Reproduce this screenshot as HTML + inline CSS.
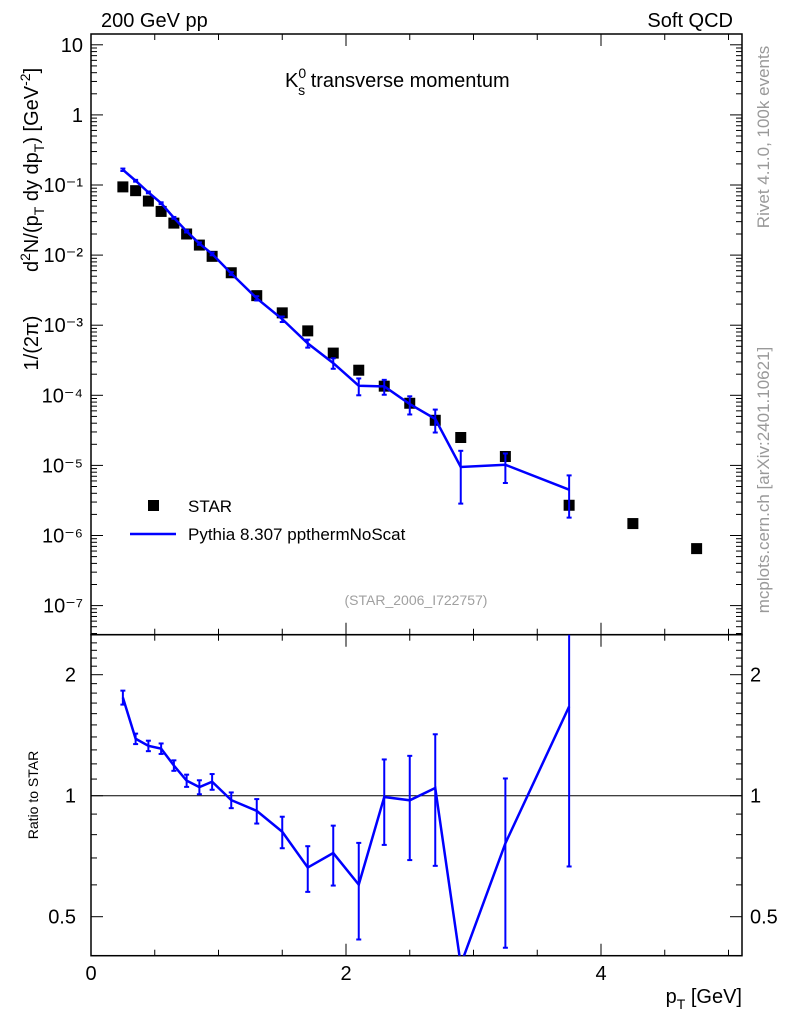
<!DOCTYPE html>
<html><head><meta charset="utf-8"><style>
html,body{margin:0;padding:0;background:#fff;width:786px;height:1024px;overflow:hidden}
svg{display:block;font-family:"Liberation Sans",sans-serif}
</style></head><body>
<svg id="c" width="786" height="1024" viewBox="0 0 786 1024"></svg>
<script>
const xVals=[0.25,0.35,0.45,0.55,0.65,0.75,0.85,0.95,1.1,1.3,1.5,1.7,1.9,2.1,2.3,2.5,2.7,2.9,3.25,3.75,4.25,4.75];
const starVals=[0.094,0.083,0.059,0.042,0.0286,0.020,0.0139,0.0096,0.0056,0.00264,0.00150,0.00083,0.00040,0.000228,0.000135,7.7e-5,4.4e-5,2.5e-5,1.34e-5,2.7e-6,1.48e-6,6.5e-7];
const pyVals=[0.165,0.115,0.0785,0.055,0.034,0.0218,0.0146,0.0104,0.00546,0.00242,0.00122,0.00055,0.000288,0.000137,0.000134,7.5e-5,4.6e-5,9.5e-6,1.02e-5,4.5e-6];
const pyRelErr=[0.04,0.03,0.03,0.03,0.03,0.035,0.04,0.045,0.045,0.07,0.09,0.13,0.17,0.27,0.24,0.29,0.36,0.7,0.45,0.6];
const mainTicks=["10","1","10⁻¹","10⁻²","10⁻³","10⁻⁴","10⁻⁵","10⁻⁶","10⁻⁷"];
const ratioTicks=[2,1,0.5];
const xTicks=[0,2,4];

const S=document.getElementById('c'),NS='http://www.w3.org/2000/svg';
function el(t,a,p){const e=document.createElementNS(NS,t);for(const k in a)e.setAttribute(k,a[k]);(p||S).appendChild(e);return e;}
const L=91,R=742,T=34,MB=634.7,RB=955.7;
const X=v=>L+127.5*v;
const Y=v=>44.8+70.1*(1-Math.log10(v));
const YR=r=>795.7-121*Math.log2(r);

const defs=el('defs',{});
const c1=el('clipPath',{id:'cm'},defs);el('rect',{x:L,y:T,width:R-L,height:MB-T},c1);
const c2=el('clipPath',{id:'cr'},defs);el('rect',{x:L,y:MB,width:R-L,height:RB-MB},c2);

let f=el('rect',{x:L,y:T,width:R-L,height:MB-T,fill:'none',stroke:'#000','stroke-width':1.5});

f=el('rect',{x:L,y:MB,width:R-L,height:RB-MB,fill:'none',stroke:'#000','stroke-width':1.5});


for(let d=1;d>=-8;d--){for(let m=1;m<10;m++){const v=m*Math.pow(10,d);const y=Y(v);if(y<T||y>MB)continue;const len=m==1?12:6;
el('line',{x1:L,y1:y,x2:L+len,y2:y,stroke:'#000'});el('line',{x1:R,y1:y,x2:R-len,y2:y,stroke:'#000'});}}
mainTicks.forEach((t,i)=>{const y=Y(Math.pow(10,1-i));const tx=el('text',{x:L-8,y:y+7,'text-anchor':'end','font-size':20});tx.textContent=t;
});
for(let r=0.4;r<=2.5;r+=0.1){const rr=Math.round(r*10)/10;const y=YR(rr);if(y<MB||y>RB)continue;const maj=ratioTicks.includes(rr);const len=maj?12:6;
el('line',{x1:L,y1:y,x2:L+len,y2:y,stroke:'#000'});el('line',{x1:R,y1:y,x2:R-len,y2:y,stroke:'#000'});}
ratioTicks.forEach(r=>{const y=YR(r);let tx=el('text',{x:L-15,y:y+7,'text-anchor':'end','font-size':20});tx.textContent=String(r);

tx=el('text',{x:R+8,y:y+7,'font-size':20});tx.textContent=String(r);
});
for(let v=0;v<=5.1;v+=0.5){const x=X(v);const maj=Math.abs(v%2)<1e-6;const len=maj?12:6;
[[T,1],[MB,-1],[MB,1],[RB,-1]].forEach(([y0,s])=>el('line',{x1:x,y1:y0,x2:x,y2:y0+s*len,stroke:'#000'}));}
xTicks.forEach(v=>{const tx=el('text',{x:X(v),y:980,'text-anchor':'middle','font-size':20});tx.textContent=String(v);
});
el('line',{x1:L,y1:YR(1),x2:R,y2:YR(1),stroke:'#000','stroke-width':1});

starVals.forEach((v,i)=>{const r=el('rect',{x:X(xVals[i])-5.5,y:Y(v)-5.5,width:11,height:11,fill:'#000'});
});

const gm=el('g',{'clip-path':'url(#cm)'});
let pts=pyVals.map((v,i)=>X(xVals[i])+','+Y(v)).join(' ');
let pl=el('polyline',{points:pts,fill:'none',stroke:'#0000ff','stroke-width':2.5},gm);

pyVals.forEach((v,i)=>{const x=X(xVals[i]);const y1=Y(v*(1+pyRelErr[i])),y2=Y(Math.max(v*(1-pyRelErr[i]),1e-9));
const g=el('g',{stroke:'#0000ff','stroke-width':2},gm);
el('line',{x1:x,y1:y1,x2:x,y2:y2},g);el('line',{x1:x-2.5,y1:y1,x2:x+2.5,y2:y1},g);el('line',{x1:x-2.5,y1:y2,x2:x+2.5,y2:y2},g);});

const gr=el('g',{'clip-path':'url(#cr)'});
const ratios=pyVals.map((v,i)=>v/starVals[i]);
pts=ratios.map((r,i)=>X(xVals[i])+','+YR(r)).join(' ');
pl=el('polyline',{points:pts,fill:'none',stroke:'#0000ff','stroke-width':2.5},gr);

ratios.forEach((r,i)=>{if(YR(r)>RB)return;const x=X(xVals[i]);const y1=YR(r*(1+pyRelErr[i])),y2=YR(Math.max(r*(1-pyRelErr[i]),0.01));
const g=el('g',{stroke:'#0000ff','stroke-width':2},gr);
el('line',{x1:x,y1:y1,x2:x,y2:y2},g);el('line',{x1:x-2.5,y1:y1,x2:x+2.5,y2:y1},g);el('line',{x1:x-2.5,y1:y2,x2:x+2.5,y2:y2},g);});

function txt(s,a,name){const t=el('text',a);t.innerHTML=s;return t;}
txt('200 GeV pp',{x:101,y:27,'font-size':20},'header-left');
txt('Soft QCD',{x:733,y:27,'font-size':20,'text-anchor':'end'},'header-right');
txt('K<tspan font-size="14" dy="-9">0</tspan><tspan font-size="14" dx="-8" dy="17">s</tspan><tspan dy="-8"> transverse momentum</tspan>',{x:285,y:87,'font-size':20},'plot-title');
txt('1/(2π)',{x:0,y:0,'font-size':20,'text-anchor':'middle',transform:'translate(38,343) rotate(-90)'},'y-axis-title-prefix');
txt('d<tspan font-size="14" dy="-8">2</tspan><tspan dy="8">N/(p</tspan><tspan font-size="14" dy="6">T</tspan><tspan dy="-6"> dy dp</tspan><tspan font-size="14" dy="6">T</tspan><tspan dy="-6">)  [GeV</tspan><tspan font-size="14" dy="-8">-2</tspan><tspan dy="8">]</tspan>',{x:0,y:0,'font-size':20,transform:'translate(38,272) rotate(-90)'},'y-axis-title');
txt('Ratio to STAR',{x:0,y:0,'font-size':14,'text-anchor':'middle',transform:'translate(38,795) rotate(-90)'},'ratio-axis-title');
txt('p<tspan font-size="14" dy="6">T</tspan><tspan dy="-6"> [GeV]</tspan>',{x:742,y:1003,'font-size':20,'text-anchor':'end'},'x-axis-title');
txt('(STAR_2006_I722757)',{x:416,y:605,'font-size':14,fill:'#a0a0a0','text-anchor':'middle'},'analysis-id');
txt('Rivet 4.1.0,  100k events',{x:0,y:0,'font-size':17,fill:'#999','text-anchor':'middle',transform:'translate(769,137) rotate(-90)'},'rivet-label');
txt('mcplots.cern.ch [arXiv:2401.10621]',{x:0,y:0,'font-size':17,fill:'#999','text-anchor':'middle',transform:'translate(769,480) rotate(-90)'},'mcplots-label');
let lg=el('rect',{x:148,y:500,width:11,height:11,fill:'#000'});
txt('STAR',{x:188,y:512,'font-size':17},'legend-star-label');
lg=el('line',{x1:130,y1:534,x2:176,y2:534,stroke:'#0000ff','stroke-width':2.5});
txt('Pythia 8.307 ppthermNoScat',{x:188,y:540,'font-size':17},'legend-pythia-label');
</script>
</body></html>
